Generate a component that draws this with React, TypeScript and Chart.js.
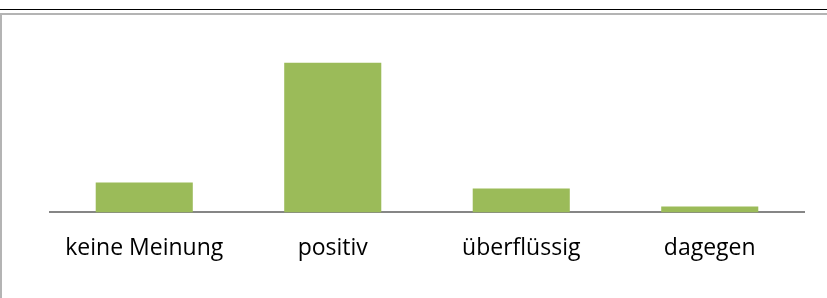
import React, { useEffect, useRef } from "react";
import { Chart, registerables } from "chart.js";

Chart.register(...registerables);

const categories = ["keine Meinung", "positiv", "überflüssig", "dagegen"];
const values = [5, 25, 4, 1];
const yMax = 32;

export default function App() {
  const ref = useRef<HTMLCanvasElement | null>(null);
  useEffect(() => {
    document.body.style.margin = "0";
    const ctx = ref.current!;
    const chart = new Chart(ctx, {
      type: "bar",
      data: {
        labels: categories,
        datasets: [
          {
            data: values,
            backgroundColor: "#9bbb59",
            borderWidth: 0,
            barPercentage: 0.515,
            categoryPercentage: 1,
          },
        ],
      },
      options: {
        responsive: false,
        animation: false,
        layout: { padding: { left: 50, right: 23, top: 21, bottom: 14 } },
        plugins: { legend: { display: false }, tooltip: { enabled: false } },
        scales: {
          x: {
            grid: { display: false, drawTicks: false },
            border: { display: true, color: "#868686", width: 2 },
            ticks: {
              color: "#000000",
              padding: 22,
              maxRotation: 0,
              font: { family: "'Open Sans', sans-serif", size: 23 },
            },
          },
          y: {
            display: false,
            min: 0,
            max: yMax,
          },
        },
      },
    });
    return () => chart.destroy();
  }, []);
  return (
    <div style={{ position: "fixed", left: 0, top: 0, width: 827, height: 298, background: "#fff" }}>
      <div style={{ position: "absolute", left: 0, top: 9, width: 827, height: 1, background: "#000" }} />
      <div style={{ position: "absolute", left: 0, top: 13, width: 827, height: 2, background: "#b4b4b4" }} />
      <div style={{ position: "absolute", left: 0, top: 14, width: 2, height: 284, background: "#b4b4b4" }} />
      <canvas ref={ref} width={827} height={298} style={{ position: "absolute", left: 0, top: 0 }} />
    </div>
  );
}
